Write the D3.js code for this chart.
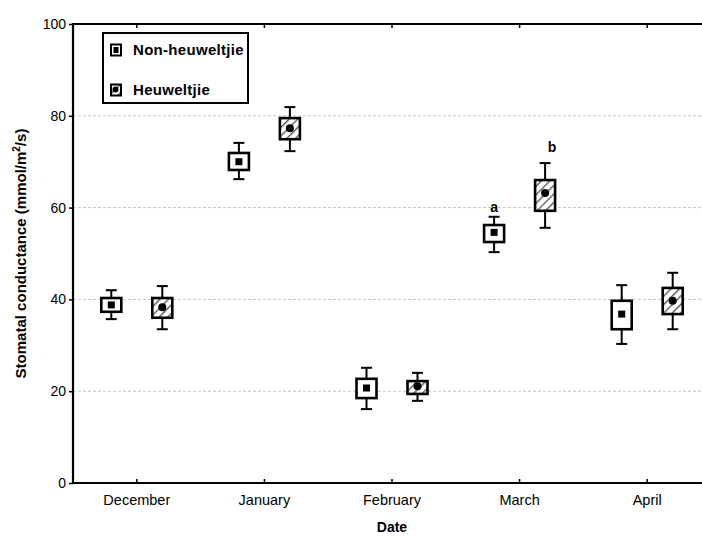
<!DOCTYPE html>
<html>
<head>
<meta charset="utf-8">
<script src="https://cdn.jsdelivr.net/npm/d3@7"></script>
<style>
  body { margin: 0; background: #fff; }
  text { font-family: "Liberation Sans", Arial, sans-serif; fill: #000; }
</style>
</head>
<body>
<div id="chart"></div>
<script>
const months = ['December', 'January', 'February', 'March', 'April'];
const yTicks = [0, 20, 40, 60, 80, 100];
const gridTicks = [20, 40, 60, 80];

// Non-heuweltjie
const nonMean = [38.8, 70.0, 20.7, 54.6, 36.8];
const nonBoxLo = [37.3, 68.2, 18.5, 52.5, 33.5];
const nonBoxHi = [40.3, 71.9, 22.7, 56.2, 39.7];
const nonWhiskLo = [35.7, 66.2, 16.1, 50.3, 30.3];
const nonWhiskHi = [42.0, 74.1, 25.1, 58.0, 43.1];
const nonLetter = ['', '', '', 'a', ''];
const nonLetterAt = [0, 0, 0, 59.0, 0];

// Heuweltjie
const heuMean = [38.3, 77.3, 21.1, 63.2, 39.7];
const heuBoxLo = [36.0, 74.9, 19.4, 59.3, 36.8];
const heuBoxHi = [40.3, 79.5, 22.2, 66.0, 42.5];
const heuWhiskLo = [33.5, 72.3, 17.9, 55.6, 33.5];
const heuWhiskHi = [42.9, 81.9, 24.0, 69.7, 45.8];
const heuLetter = ['', '', '', 'b', ''];
const heuLetterAt = [0, 0, 0, 72.1, 0];

const seriesNames = ['Non-heuweltjie', 'Heuweltjie'];

const W = 702, H = 539;
const margin = { left: 73, top: 24, right: -9, bottom: 56 };

const svg = d3.select('#chart').append('svg')
  .attr('width', W)
  .attr('height', H);

const defs = svg.append('defs');
const hatch = defs.append('pattern')
  .attr('id', 'hatch')
  .attr('patternUnits', 'userSpaceOnUse')
  .attr('width', 6)
  .attr('height', 6)
  .attr('patternTransform', 'rotate(45)');
hatch.append('rect').attr('width', 6).attr('height', 6).attr('fill', '#fff');
hatch.append('line')
  .attr('x1', 0).attr('y1', 0).attr('x2', 0).attr('y2', 6)
  .attr('stroke', '#5a5a5a').attr('stroke-width', 2.8);

const x = d3.scaleBand()
  .domain(months)
  .range([margin.left, W - margin.right]);
const offset = d3.scalePoint()
  .domain(seriesNames)
  .range([-25.5, 25.5]);
const y = d3.scaleLinear()
  .domain([0, 100])
  .range([H - margin.bottom, margin.top]);

// grid
svg.append('g')
  .selectAll('line')
  .data(gridTicks)
  .enter()
  .append('line')
  .attr('x1', margin.left)
  .attr('x2', W)
  .attr('y1', d => y(d))
  .attr('y2', d => y(d))
  .attr('stroke', '#c4c4c4')
  .attr('stroke-width', 1)
  .attr('stroke-dasharray', '3,2');

// axes
const yAxis = d3.axisLeft(y).tickValues(yTicks).tickSize(4).tickPadding(3);
const gy = svg.append('g')
  .attr('transform', 'translate(' + margin.left + ',0)')
  .call(yAxis);
gy.select('.domain').remove();
gy.selectAll('.tick line').attr('stroke', '#000').attr('stroke-width', 1.5);
gy.selectAll('.tick text')
  .attr('font-family', '"Liberation Sans", Arial, sans-serif')
  .attr('font-size', 14)
  .attr('fill', '#000');

const xAxis = d3.axisBottom(x).tickSizeInner(-4).tickSizeOuter(0).tickPadding(12);
const gx = svg.append('g')
  .attr('transform', 'translate(0,' + y(0) + ')')
  .call(xAxis);
gx.select('.domain').remove();
gx.selectAll('.tick line').attr('stroke', '#000').attr('stroke-width', 1.5);
gx.selectAll('.tick text')
  .attr('font-family', '"Liberation Sans", Arial, sans-serif')
  .attr('font-size', 14.5)
  .attr('fill', '#000');

const xTop = d3.axisTop(x).tickSizeInner(-4).tickSizeOuter(0).tickFormat('');
const gt = svg.append('g')
  .attr('transform', 'translate(0,' + y(100) + ')')
  .call(xTop);
gt.select('.domain').remove();
gt.selectAll('.tick line').attr('stroke', '#000').attr('stroke-width', 1.5);

// frame
svg.append('path')
  .attr('d', 'M' + W + ',' + y(100) + 'H' + margin.left + 'V' + y(0) + 'H' + W)
  .attr('fill', 'none')
  .attr('stroke', '#000')
  .attr('stroke-width', 2.2);

const series = [
  { name: seriesNames[0], mean: nonMean, lo: nonBoxLo, hi: nonBoxHi, wlo: nonWhiskLo, whi: nonWhiskHi, letter: nonLetter, letterAt: nonLetterAt, fill: '#fff', marker: 'square', dx: 0 },
  { name: seriesNames[1], mean: heuMean, lo: heuBoxLo, hi: heuBoxHi, wlo: heuWhiskLo, whi: heuWhiskHi, letter: heuLetter, letterAt: heuLetterAt, fill: 'url(#hatch)', marker: 'circle', dx: 7 }
];

const boxW = 20, capW = 11;

const drawMarker = (g, kind, cx, cy) => {
  if (kind === 'square') {
    g.append('rect')
      .attr('x', cx - 3.5).attr('y', cy - 3.5)
      .attr('width', 7).attr('height', 7)
      .attr('fill', '#000');
  } else {
    g.append('circle')
      .attr('cx', cx).attr('cy', cy).attr('r', 4)
      .attr('fill', '#000');
  }
};

series.forEach(s => {
  const g = svg.append('g').attr('class', 'series');
  months.forEach((m, i) => {
    const cx = x(m) + x.bandwidth() / 2 + offset(s.name);
    // whiskers
    g.append('line')
      .attr('x1', cx).attr('x2', cx)
      .attr('y1', y(s.whi[i])).attr('y2', y(s.wlo[i]))
      .attr('stroke', '#000').attr('stroke-width', 2);
    [s.whi[i], s.wlo[i]].forEach(v => {
      g.append('line')
        .attr('x1', cx - capW / 2).attr('x2', cx + capW / 2)
        .attr('y1', y(v)).attr('y2', y(v))
        .attr('stroke', '#000').attr('stroke-width', 2);
    });
    // box
    g.append('rect')
      .attr('x', cx - boxW / 2)
      .attr('y', y(s.hi[i]))
      .attr('width', boxW)
      .attr('height', y(s.lo[i]) - y(s.hi[i]))
      .attr('fill', s.fill)
      .attr('stroke', '#000')
      .attr('stroke-width', 2.6);
    drawMarker(g, s.marker, cx, y(s.mean[i]));
    if (s.letter[i]) {
      g.append('text')
        .attr('x', cx + s.dx)
        .attr('y', y(s.letterAt[i]))
        .attr('text-anchor', 'middle')
        .attr('font-size', 14)
        .attr('font-weight', 'bold')
        .text(s.letter[i]);
    }
  });
});

// legend
const legend = svg.append('g');
legend.append('rect')
  .attr('x', 103).attr('y', 33)
  .attr('width', 145).attr('height', 70)
  .attr('fill', '#fff')
  .attr('stroke', '#000')
  .attr('stroke-width', 2);
series.forEach((s, i) => {
  const cy = 50 + i * 40;
  legend.append('rect')
    .attr('x', 111).attr('y', cy - 5.5)
    .attr('width', 10).attr('height', 11)
    .attr('fill', s.fill)
    .attr('stroke', '#000')
    .attr('stroke-width', 2);
  if (s.marker === 'square') {
    legend.append('rect')
      .attr('x', 113.5).attr('y', cy - 3)
      .attr('width', 5).attr('height', 6)
      .attr('fill', '#000');
  } else {
    legend.append('circle')
      .attr('cx', 115.5).attr('cy', cy - 0.5).attr('r', 3)
      .attr('fill', '#000');
  }
  legend.append('text')
    .attr('x', 133)
    .attr('y', cy)
    .attr('dy', '0.36em')
    .attr('font-size', 15)
    .attr('font-weight', 'bold')
    .attr('letter-spacing', 0.3)
    .text(s.name);
});

// axis titles
svg.append('text')
  .attr('x', (margin.left + W - margin.right) / 2)
  .attr('y', 532)
  .attr('text-anchor', 'middle')
  .attr('font-size', 14)
  .attr('font-weight', 'bold')
  .text('Date');

const yt = svg.append('text')
  .attr('transform', 'translate(26,' + ((y(0) + y(100)) / 2) + ') rotate(-90)')
  .attr('text-anchor', 'middle')
  .attr('font-size', 15)
  .attr('font-weight', 'bold');
yt.append('tspan').text('Stomatal conductance (mmol/m');
yt.append('tspan').attr('dy', -6).attr('font-size', 10).text('2');
yt.append('tspan').attr('dy', 6).text('/s)');
</script>
</body>
</html>
